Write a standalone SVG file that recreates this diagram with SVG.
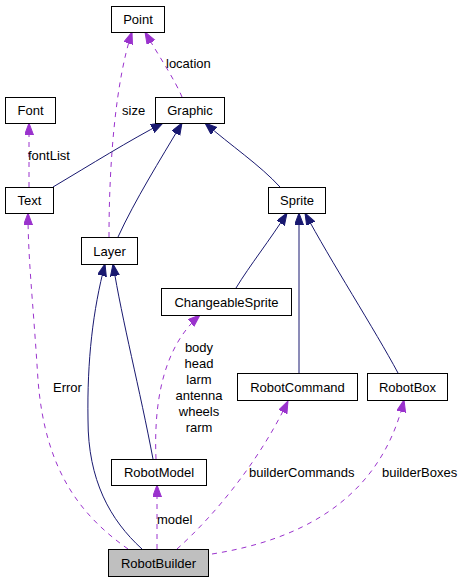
<svg xmlns="http://www.w3.org/2000/svg" width="465" height="581" viewBox="0 0 465 581">
<style>
.n rect{fill:#fff;stroke:#000;stroke-width:1}
.n text{font-family:"Liberation Sans",Arial,sans-serif;font-size:13px;text-anchor:middle;fill:#000}
.lbl{font-family:"Liberation Sans",Arial,sans-serif;font-size:13px;fill:#000}
.inh{fill:none;stroke:#191970;stroke-width:1}
.use{fill:none;stroke:#9a32cd;stroke-width:1;stroke-dasharray:5,5}
</style>
<defs>
<marker id="ah" markerUnits="userSpaceOnUse" markerWidth="14" markerHeight="12" refX="12" refY="4.5" orient="auto"><path d="M0,0 L12,4.5 L0,9 z" fill="#191970" stroke="#191970"/></marker>
<marker id="ap" markerUnits="userSpaceOnUse" markerWidth="14" markerHeight="12" refX="12" refY="4.5" orient="auto"><path d="M0,0 L12,4.5 L0,9 z" fill="#9a32cd" stroke="#9a32cd"/></marker>
</defs>
<g id="edges">
<path class="use" d="M182,97 C175,80 160,58 145,32" marker-end="url(#ap)"/>
<path class="use" d="M109,237 C109,160 116,80 132,32" marker-end="url(#ap)"/>
<path class="use" d="M29,187 L29,123" marker-end="url(#ap)"/>
<path class="inh" d="M53,187 C90,165 130,140 163,123" marker-end="url(#ah)"/>
<path class="inh" d="M118,237 C135,200 160,160 182,123" marker-end="url(#ah)"/>
<path class="inh" d="M280,187 C260,165 230,145 205,123" marker-end="url(#ah)"/>
<path class="inh" d="M236,288 C250,265 270,240 287,213" marker-end="url(#ah)"/>
<path class="inh" d="M299,373 L299,213" marker-end="url(#ah)"/>
<path class="inh" d="M398,373 C375,330 330,260 305,213" marker-end="url(#ah)"/>
<path class="inh" d="M153,459 C140,390 122,320 113,264" marker-end="url(#ah)"/>
<path class="inh" d="M142,549 C110,520 88,480 88,420 C87,360 93,310 105,264" marker-end="url(#ah)"/>
<path class="use" d="M156,459 C154,410 160,350 200,315" marker-end="url(#ap)"/>
<path class="use" d="M128,549 C80,515 45,470 38,380 C33,300 28,260 28,213" marker-end="url(#ap)"/>
<path class="use" d="M157,549 L157,485" marker-end="url(#ap)"/>
<path class="use" d="M177,549 C215,515 260,460 288,401" marker-end="url(#ap)"/>
<path class="use" d="M212,554 C300,540 380,500 404,400" marker-end="url(#ap)"/>
<text class="lbl" x="166" y="68">location</text>
<text class="lbl" x="122" y="115">size</text>
<text class="lbl" x="28" y="160">fontList</text>
<text class="lbl" x="53" y="392">Error</text>
<text class="lbl" x="157" y="524">model</text>
<text class="lbl" x="249" y="477">builderCommands</text>
<text class="lbl" x="382" y="477">builderBoxes</text>
<g class="lbl" text-anchor="middle">
<text x="199" y="352">body</text>
<text x="199" y="368">head</text>
<text x="199" y="384">larm</text>
<text x="199" y="400">antenna</text>
<text x="199" y="416">wheels</text>
<text x="199" y="432">rarm</text>
</g>
</g>
<g id="Point" class="n"><rect x="111.5" y="6.5" width="53" height="26"/><text x="138" y="24">Point</text></g>
<g id="Font" class="n"><rect x="5.5" y="97.5" width="50" height="26"/><text x="30.5" y="115">Font</text></g>
<g id="Graphic" class="n"><rect x="155.5" y="97.5" width="69" height="26"/><text x="190" y="115">Graphic</text></g>
<g id="Text" class="n"><rect x="5.5" y="187.5" width="48" height="26"/><text x="29.5" y="205">Text</text></g>
<g id="Sprite" class="n"><rect x="268.5" y="187.5" width="57" height="26"/><text x="297" y="205">Sprite</text></g>
<g id="Layer" class="n"><rect x="81.5" y="237.5" width="56" height="27"/><text x="109.5" y="256">Layer</text></g>
<g id="ChangeableSprite" class="n"><rect x="161.5" y="288.5" width="130" height="27"/><text x="226.5" y="307">ChangeableSprite</text></g>
<g id="RobotCommand" class="n"><rect x="237.5" y="373.5" width="120" height="27"/><text x="297.5" y="392">RobotCommand</text></g>
<g id="RobotBox" class="n"><rect x="367.5" y="373.5" width="80" height="27"/><text x="407.5" y="392">RobotBox</text></g>
<g id="RobotModel" class="n"><rect x="111.5" y="459.5" width="95" height="26"/><text x="159" y="477">RobotModel</text></g>
<g id="RobotBuilder" class="n"><rect x="108.5" y="549.5" width="100" height="27" style="fill:#bfbfbf"/><text x="158.5" y="568">RobotBuilder</text></g>
</svg>
